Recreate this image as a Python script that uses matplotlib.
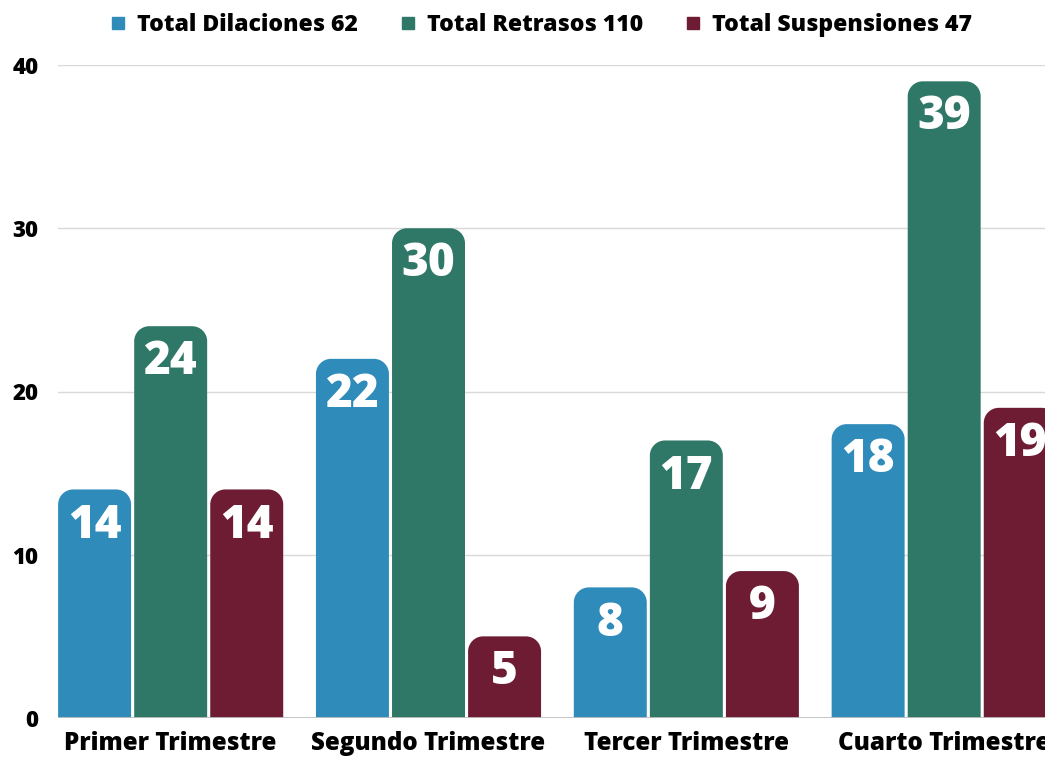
import matplotlib.pyplot as plt
from matplotlib.path import Path
from matplotlib.patches import PathPatch
from matplotlib.lines import Line2D
import numpy as np

plt.rcParams['font.family'] = ['Open Sans', 'DejaVu Sans']

# Data
quarters = ['Primer Trimestre', 'Segundo Trimestre', 'Tercer Trimestre', 'Cuarto Trimestre']
dilaciones = [14, 22, 8, 18]
retrasos = [24, 30, 17, 39]
suspensiones = [14, 5, 9, 19]
series_names = ['Total Dilaciones', 'Total Retrasos', 'Total Suspensiones']
colors = ['#2e8bba', '#2f7868', '#6e1c33']


def rounded_top(ax, rect, r_px=15):
    # replace a bar rectangle by a path with rounded top corners
    x, y = rect.get_x(), rect.get_y()
    w, h = rect.get_width(), rect.get_height()
    p0 = ax.transData.transform((0, 0))
    p1 = ax.transData.transform((1, 1))
    rx = r_px / abs(p1[0] - p0[0])
    ry = r_px / abs(p1[1] - p0[1])
    ry = min(ry, h)
    k = 0.55
    verts = [(x, y), (x, y + h - ry),
             (x, y + h - ry + k * ry), (x + rx - k * rx, y + h), (x + rx, y + h),
             (x + w - rx, y + h),
             (x + w - rx + k * rx, y + h), (x + w, y + h - ry + k * ry), (x + w, y + h - ry),
             (x + w, y), (x, y)]
    codes = [Path.MOVETO, Path.LINETO,
             Path.CURVE4, Path.CURVE4, Path.CURVE4,
             Path.LINETO,
             Path.CURVE4, Path.CURVE4, Path.CURVE4,
             Path.LINETO, Path.CLOSEPOLY]
    patch = PathPatch(Path(verts, codes), facecolor=rect.get_facecolor(),
                      edgecolor='none', zorder=3)
    rect.set_visible(False)
    ax.add_patch(patch)


fig = plt.figure(figsize=(10.45, 7.58), dpi=100)
ax = fig.add_axes([58 / 1045, 1 - 718 / 758, 1 - 58 / 1045, (718 - 65) / 758])
ax.set_xlim(-0.437, 3.391)
ax.set_ylim(0, 40)

x = np.arange(len(quarters))
step = 0.295
width = 0.283
all_series = [dilaciones, retrasos, suspensiones]
for i, vals in enumerate(all_series):
    bars = ax.bar(x + (i - 1) * step, vals, width, color=colors[i], zorder=3)
    for rect, v in zip(bars, vals):
        rounded_top(ax, rect)
        ax.annotate(str(v), (rect.get_x() + rect.get_width() / 2, v),
                    xytext=(0, -26), textcoords='offset points',
                    ha='center', va='center', color='white',
                    fontsize=33, fontweight='heavy', zorder=4)

ax.set_yticks([0, 10, 20, 30, 40])
ax.grid(axis='y', color='#d9d9d9', linewidth=1, zorder=0)
ax.axhline(0, color='#c0c0c0', linewidth=2, zorder=4)
for s in ax.spines.values():
    s.set_visible(False)
ax.tick_params(axis='y', length=0, pad=14, labelsize=16)
ax.tick_params(axis='x', length=0, pad=9, labelsize=17.4)
ax.set_xticks(x)
ax.set_xticklabels(quarters, fontweight='heavy')
for lbl in ax.get_yticklabels():
    lbl.set_fontweight('heavy')

totals = [sum(s) for s in all_series]
handles = [Line2D([], [], marker='s', linestyle='none', markersize=8,
                  color=c) for c in colors]
labels = [f'{n} {t}' for n, t in zip(series_names, totals)]
fig.legend(handles, labels, loc='center', bbox_to_anchor=(0.516, 1 - 25 / 758),
           ncol=3, frameon=False, prop={'weight': 'heavy', 'size': 16.6},
           handletextpad=0.3, columnspacing=1.7, handlelength=1.0)

fig.savefig('out.png', dpi=100)
